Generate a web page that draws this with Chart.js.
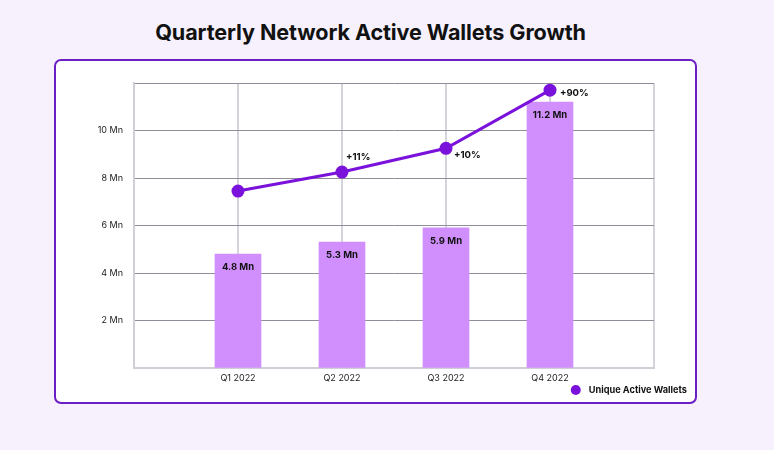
<!DOCTYPE html>
<html>
<head>
<meta charset="utf-8">
<script src="https://cdn.jsdelivr.net/npm/chart.js@4.4.1/dist/chart.umd.min.js"></script>
<style>
  html, body { margin: 0; padding: 0; }
  body { width: 774px; height: 450px; background: #f6f1fd; position: relative; overflow: hidden; font-family: Inter, sans-serif; }
  h1 { position: absolute; left: 0; width: 741px; top: 19px; margin: 0; text-align: center; font-size: 21.6px; font-weight: 700; color: #111; letter-spacing: -0.1px; }
  .card { position: absolute; left: 54px; top: 59px; width: 639px; height: 341px; background: #fff; border: 2px solid #6a1ec4; border-radius: 7px; }
  canvas { position: absolute; left: 0; top: 0; }
</style>
</head>
<body>
<h1>Quarterly Network Active Wallets Growth</h1>
<div class="card"><canvas id="walletsChart" width="639" height="341"></canvas></div>
<script>
const quarters = ['Q1 2022', 'Q2 2022', 'Q3 2022', 'Q4 2022'];
const walletsMn = [4.8, 5.3, 5.9, 11.2];
const trendMn = [7.45, 8.25, 9.25, 11.7];
const growthLabels = ['', '+11%', '+10%', '+90%'];
const yTicks = [2, 4, 6, 8, 10];
const legendLabel = 'Unique Active Wallets';

// empty slot on each side so the quarters sit on grid lines
const labels = [''].concat(quarters, ['']);
const pad = arr => [null].concat(arr, [null]);

const growthOffsets = [[0, 0], [4, -15], [8, 7], [10, 3]];

const valueLabels = {
    id: 'valueLabels',
    afterDatasetsDraw(chart) {
        const c = chart.ctx;
        c.save();
        c.fillStyle = '#111';
        c.font = 'bold 9.5px Inter, sans-serif';
        c.textAlign = 'center';
        c.textBaseline = 'middle';
        chart.getDatasetMeta(1).data.forEach((bar, i) => {
            if (walletsMn[i - 1] == null) return;
            c.fillText(walletsMn[i - 1] + ' Mn', bar.x, bar.y + 13);
        });
        c.textAlign = 'left';
        chart.getDatasetMeta(0).data.forEach((pt, i) => {
            const txt = growthLabels[i - 1];
            if (!txt) return;
            const off = growthOffsets[i - 1];
            c.fillText(txt, pt.x + off[0], pt.y + off[1]);
        });

        // legend, bottom right of the card
        const ds = chart.data.datasets[0];
        c.font = 'bold 9.2px Inter, sans-serif';
        const w = c.measureText(legendLabel).width;
        const tx = chart.width - 8 - w;
        const ty = chart.chartArea.bottom + 22;
        c.fillStyle = '#111';
        c.fillText(legendLabel, tx, ty);
        c.fillStyle = ds.backgroundColor;
        c.beginPath();
        c.arc(tx - 13, ty, 5, 0, Math.PI * 2);
        c.fill();
        c.restore();
    }
};

const ctx = document.getElementById('walletsChart').getContext('2d');
new Chart(ctx, {
    data: {
        labels: labels,
        datasets: [{
            type: 'line',
            label: legendLabel,
            data: pad(trendMn),
            borderColor: '#7a12dc',
            backgroundColor: '#7a12dc',
            borderWidth: 3,
            pointRadius: 5,
            pointHoverRadius: 5,
            order: 0
        }, {
            type: 'bar',
            label: 'Wallets',
            data: pad(walletsMn),
            backgroundColor: '#d08ffd',
            barThickness: 46,
            order: 1
        }]
    },
    options: {
        responsive: false,
        animation: false,
        layout: { padding: { left: 0, right: 41, top: 22, bottom: 0 } },
        plugins: {
            legend: { display: false },
            tooltip: { enabled: false }
        },
        scales: {
            x: {
                offset: false,
                afterFit(scale) { scale.height = 34; },
                grid: { offset: false, color: '#d4d4dc', lineWidth: 2, drawTicks: false },
                border: { color: '#cfcfd7', width: 2 },
                ticks: { color: '#222', padding: 5, font: { family: 'Inter, sans-serif', size: 9 } }
            },
            y: {
                min: 0,
                max: 12,
                afterFit(scale) { scale.width = 78; },
                afterBuildTicks(scale) {
                    scale.ticks = [0].concat(yTicks, [12]).map(v => ({ value: v }));
                },
                grid: {
                    drawTicks: false,
                    color: c => c.tick && c.tick.value === 0 ? '#cfcfd7' : '#8e8e98',
                    lineWidth: 1
                },
                border: { color: '#cfcfd7', width: 2 },
                ticks: {
                    color: '#222',
                    padding: 11,
                    font: { family: 'Inter, sans-serif', size: 9 },
                    callback: v => yTicks.includes(v) ? v + ' Mn' : ''
                }
            }
        }
    },
    plugins: [valueLabels]
});
</script>
</body>
</html>
